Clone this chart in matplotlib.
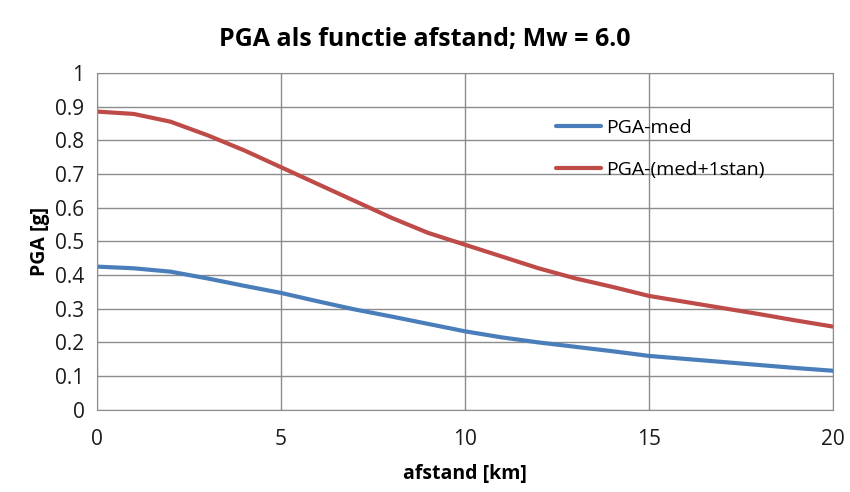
import matplotlib.pyplot as plt

# afstand [km]
afstand = [0, 1, 2, 3, 4, 5, 6, 7, 8, 9, 10, 11, 12, 13, 14, 15, 16, 17, 18, 19, 20]
# PGA median [g]
pga_med = [0.425, 0.42, 0.41, 0.39, 0.368, 0.347, 0.322, 0.298, 0.277, 0.255, 0.233,
           0.215, 0.2, 0.187, 0.174, 0.16, 0.151, 0.142, 0.133, 0.124, 0.116]
# PGA median + 1 standard deviation [g]
pga_med_1stan = [0.885, 0.878, 0.855, 0.815, 0.77, 0.72, 0.67, 0.62, 0.57, 0.525, 0.49,
                 0.455, 0.42, 0.39, 0.365, 0.338, 0.32, 0.302, 0.284, 0.265, 0.247]

labels = ['PGA-med', 'PGA-(med+1stan)']
colors = ['#4A7EBB', '#BE4B48']

plt.rcParams['font.family'] = ['Open Sans', 'DejaVu Sans']

fig = plt.figure(figsize=(8.5, 4.92), dpi=100)
ax = fig.add_axes([0.114, 0.167, 0.866, 0.685])

ax.plot(afstand, pga_med, color=colors[0], lw=3, label=labels[0], solid_capstyle='round')
ax.plot(afstand, pga_med_1stan, color=colors[1], lw=3, label=labels[1], solid_capstyle='round')

ax.set_xlim(0, 20)
ax.set_ylim(0, 1)
ax.set_xticks([0, 5, 10, 15, 20])
ax.set_yticks([i / 10 for i in range(11)])
ax.set_yticklabels(['0', '0.1', '0.2', '0.3', '0.4', '0.5', '0.6', '0.7', '0.8', '0.9', '1'])
ax.grid(True, color='#8c8c8c', lw=1)
ax.set_axisbelow(True)
for s in ax.spines.values():
    s.set_color('#8c8c8c')
ax.tick_params(length=0, labelsize=15, colors='#1a1a1a')
ax.tick_params(axis='x', pad=14)
ax.tick_params(axis='y', pad=9)

ax.set_xlabel('afstand [km]', fontsize=14, fontweight='bold', labelpad=10)
ax.set_ylabel('PGA [g]', fontsize=14, fontweight='bold', labelpad=4)
fig.suptitle('PGA als functie afstand; Mw = 6.0', fontsize=18, fontweight='bold', y=0.945)

ax.legend(loc='upper left', bbox_to_anchor=(0.6, 0.915), frameon=False, fontsize=14,
          handlelength=2.3, labelspacing=1.25, handletextpad=0.3)

plt.savefig('out.png', dpi=100)
